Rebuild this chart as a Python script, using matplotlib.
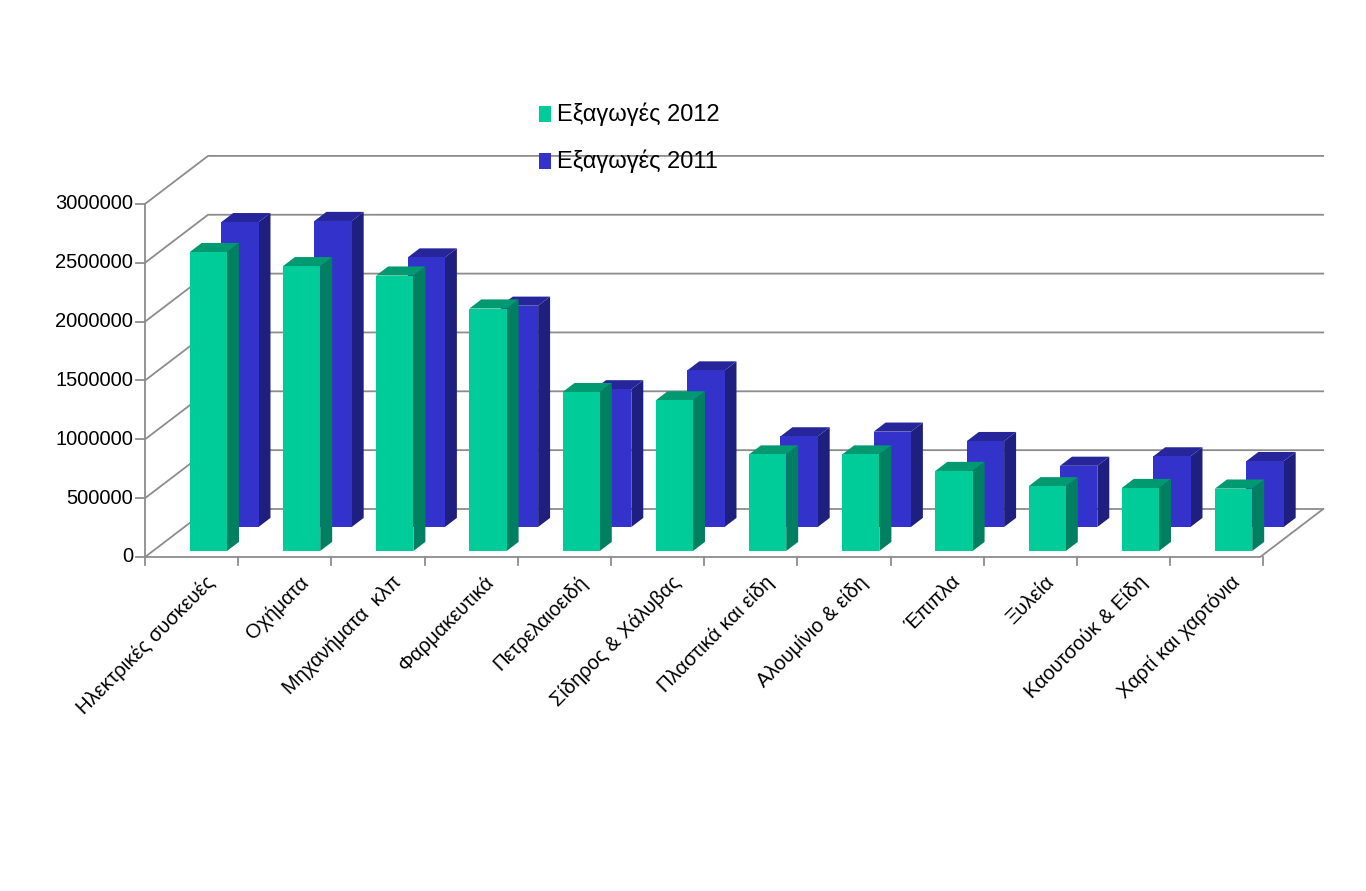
import numpy as np
import matplotlib.pyplot as plt
from matplotlib.patches import Polygon

categories = ['Ηλεκτρικές συσκευές', 'Οχήματα', 'Μηχανήματα  κλπ', 'Φαρμακευτικά',
              'Πετρελαιοειδή', 'Σίδηρος & Χάλυβας', 'Πλαστικά και είδη', 'Αλουμίνιο & είδη',
              'Έπιπλα', 'Ξυλεία', 'Καουτσούκ & Είδη', 'Χαρτί και χαρτόνια']
exports_2012 = [2540000, 2420000, 2340000, 2060000, 1350000, 1280000,
                820000, 820000, 680000, 550000, 535000, 530000]
exports_2011 = [2590000, 2600000, 2290000, 1880000, 1170000, 1330000,
                770000, 810000, 730000, 520000, 600000, 560000]
yticks = [0, 500000, 1000000, 1500000, 2000000, 2500000, 3000000]

# pixel scales of the reference, used to build a fake 3D projection
PX_CAT = 93.2
PX_VAL = 117.7e-6
DEPTH_DX = 63 / PX_CAT
DEPTH_DV = 48 / PX_VAL


def proj(x, v, d):
    return (x + d * DEPTH_DX, v + d * DEPTH_DV)


fig = plt.figure(figsize=(13.66, 8.91), dpi=100)
ax = fig.add_axes([0, 0, 1, 1])
ax.set_xlim(-200.5 / PX_CAT, (1366 - 200.5) / PX_CAT)
ax.set_ylim((557 - 891) / PX_VAL, 557 / PX_VAL)
ax.axis('off')

grid_c = '#8c8c8c'
x0, x1 = -0.595, 11.37
top = yticks[-1]

# back wall and left wall gridlines
for v in yticks:
    a = proj(x0, v, 0); b = proj(x0, v, 1); c = proj(x1, v, 1)
    ax.plot([a[0], b[0], c[0]], [a[1], b[1], c[1]], color=grid_c, lw=1.3, zorder=1)
# left front axis
ax.plot([x0, x0], [0, top], color=grid_c, lw=1.3, zorder=1)
# floor
fl = [proj(x0, 0, 0), proj(x1, 0, 0), proj(x1, 0, 1)]
ax.plot([p[0] for p in fl], [p[1] for p in fl], color=grid_c, lw=1.3, zorder=1)
for v in yticks:
    ax.plot([x0 - 0.1, x0], [v, v], color=grid_c, lw=1.3)
    ax.text(x0 - 0.13, v, str(v), ha='right', va='center', fontsize=14.5,
            family='Liberation Sans')
for i in range(len(categories) + 1):
    ax.plot([x0 + i, x0 + i], [0, -70000], color=grid_c, lw=1.3)


def bar3d(x, v, d, w, dd, front, side, topc, z):
    xl, xr = x - w / 2, x + w / 2
    f = [proj(xl, 0, d), proj(xr, 0, d), proj(xr, v, d), proj(xl, v, d)]
    s = [proj(xr, 0, d), proj(xr, 0, d + dd), proj(xr, v, d + dd), proj(xr, v, d)]
    t = [proj(xl, v, d), proj(xr, v, d), proj(xr, v, d + dd), proj(xl, v, d + dd)]
    ax.add_patch(Polygon(s, closed=True, fc=side, ec='none', zorder=z))
    ax.add_patch(Polygon(t, closed=True, fc=topc, ec='none', zorder=z))
    ax.add_patch(Polygon(f, closed=True, fc=front, ec='none', zorder=z))


w = 0.4
for i, v in enumerate(exports_2011):
    bar3d(i, v, 0.625, w, 0.19, '#3333cc', '#1f1f7f', '#26269a', 2)
for i, v in enumerate(exports_2012):
    bar3d(i, v, 0.125, w, 0.19, '#00cc99', '#008060', '#009970', 3)

for i, c in enumerate(categories):
    ax.text(i + 0.05, -130000, c, rotation=45, ha='right', va='top',
            rotation_mode='anchor', fontsize=14.5, family='Liberation Sans')

# legend
for k, (lab, col) in enumerate([('Εξαγωγές 2012', '#00cc99'), ('Εξαγωγές 2011', '#3333cc')]):
    yy = 3.75e6 - k * 0.4e6
    ax.add_patch(Polygon([(3.63, yy - 50000), (3.76, yy - 50000), (3.76, yy + 80000), (3.63, yy + 80000)],
                         closed=True, fc=col, ec='none'))
    ax.text(3.83, yy + 15000, lab, ha='left', va='center', fontsize=17, family='Liberation Sans')

fig.savefig('out.png', dpi=100)
